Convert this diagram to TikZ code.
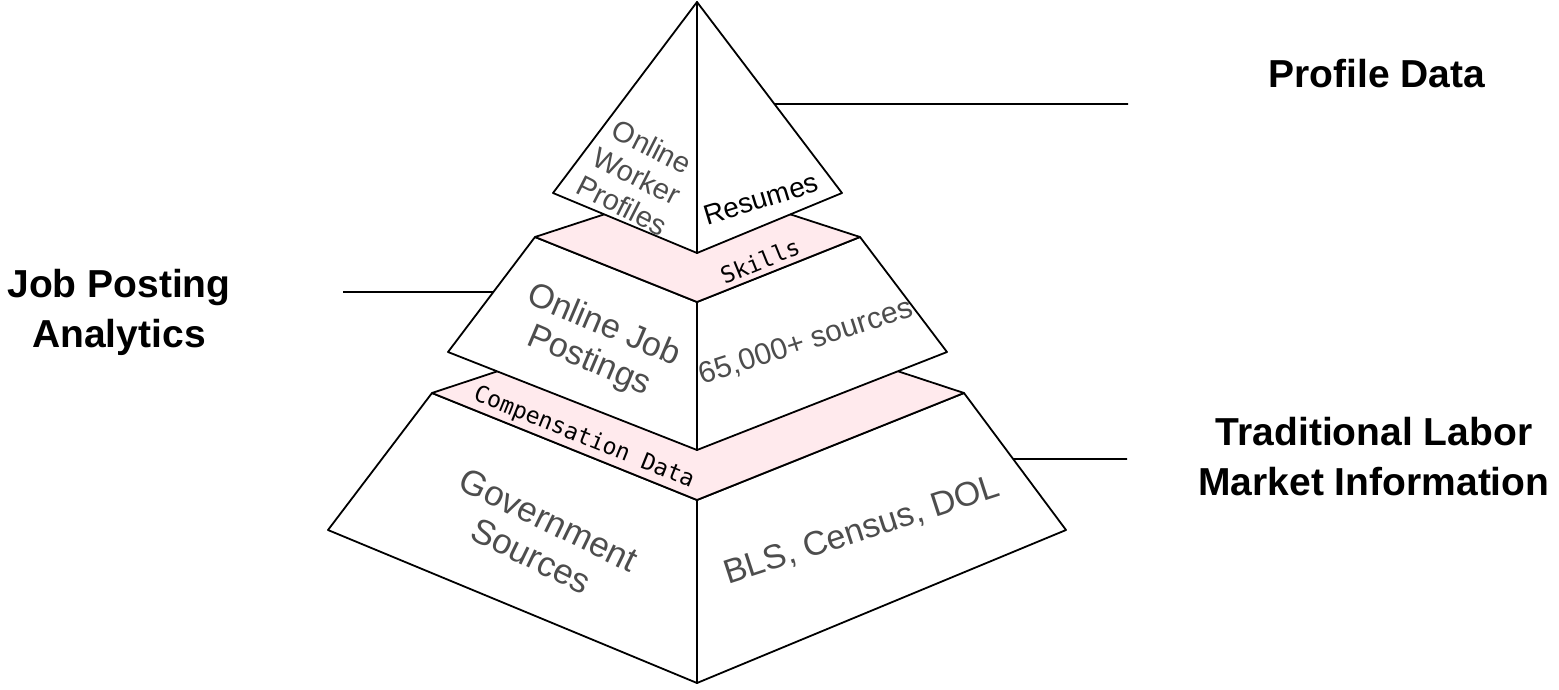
\documentclass[tikz,border=0pt]{standalone}
\usepackage{fontspec}
\setmainfont{Liberation Sans}
\newfontfamily\codefont{DejaVu Sans Mono}
\usepackage{xcolor}
\usepackage{tikz}
\usetikzlibrary{calc}
\definecolor{bandpink}{RGB}{255,234,237}
\definecolor{facegray}{RGB}{77,77,77}

\begin{document}
\begin{tikzpicture}[x=1pt,y=-1pt,line width=1.8pt,line join=round]
	\tikzstyle{face}=[draw,fill=white]
	\tikzstyle{band}=[draw,fill=bandpink]
	\tikzstyle{facetxt}=[text=facegray,align=center,inner sep=0pt]
	\tikzstyle{mono}=[font=\codefont\fontsize{23}{27}\selectfont,inner sep=0pt]
	\tikzstyle{lbl}=[font=\bfseries\fontsize{39}{50}\selectfont,align=center,inner sep=0pt]

	\useasboundingbox (0,0) rectangle (1559,689);

	\coordinate (T)   at (697,2);
	\coordinate (PL)  at (553,193);
	\coordinate (PR)  at (842,193);
	\coordinate (PF)  at (697,253);
	\coordinate (ML)  at (535,237);
	\coordinate (MR)  at (860,237);
	\coordinate (MB)  at (697,184);
	\coordinate (MF)  at (697,302);
	\coordinate (MLL) at (448,352);
	\coordinate (MRR) at (947,352);
	\coordinate (MFF) at (697,450);
	\coordinate (BL)  at (432,393);
	\coordinate (BR)  at (964,393);
	\coordinate (BB)  at (697,305);
	\coordinate (BF)  at (697,500);
	\coordinate (BLL) at (328,530);
	\coordinate (BRR) at (1066,530);
	\coordinate (BFF) at (697,683);

	\path[face] (BL) -- (BF) -- (BFF) -- (BLL) -- cycle;
	\path[face] (BF) -- (BR) -- (BRR) -- (BFF) -- cycle;
	\path[band] (BL) -- (BB) -- (BR) -- (BF) -- cycle;
	\path[face] (ML) -- (MF) -- (MFF) -- (MLL) -- cycle;
	\path[face] (MF) -- (MR) -- (MRR) -- (MFF) -- cycle;
	\path[band] (ML) -- (MB) -- (MR) -- (MF) -- cycle;
	\path[face] (T) -- (PF) -- (PL) -- cycle;
	\path[face] (T) -- (PR) -- (PF) -- cycle;

	\node[facetxt,rotate=-27,font=\fontsize{29}{33}\selectfont] (wprof) at (637,176) {Online\\Worker\\Profiles};
	\node[rotate=17,inner sep=0pt,font=\fontsize{28}{32}\selectfont] (resume) at (761,199) {Resumes};
	\node[mono,rotate=22] (skill) at (760,261) {Skills};
	\node[facetxt,rotate=-23,font=\fontsize{34}{38}\selectfont] (jobpost) at (596,344) {Online Job\\Postings};
	\node[facetxt,rotate=18,font=\fontsize{30}{34}\selectfont] (nsrc) at (806,342) {65,000+ sources};
	\node[mono,rotate=-22] (comp) at (584,438) {Compensation Data};
	\node[facetxt,rotate=-26,font=\fontsize{35}{40}\selectfont] (gov) at (540,538) {Government\\Sources};
	\node[facetxt,rotate=18,font=\fontsize{34}{38}\selectfont] (bls) at (862,531) {BLS, Census, DOL};

	\node[lbl] (profile) at (1377,74) {Profile Data};
	\node[lbl] (jpa) at (119,312) {Job Posting\\Analytics};
	\node[lbl] (tlmi) at (1374,457) {Traditional Labor\\Market Information};

	\coordinate (pdA) at ($(T)!0.534!(PR)$);
	\coordinate (pdB) at (1128,104);
	\coordinate (jpA) at ($(ML)!0.478!(MLL)$);
	\coordinate (jpB) at (343,292);
	\coordinate (tlA) at ($(BR)!0.482!(BRR)$);
	\coordinate (tlB) at (1127,459);

	\path[draw]
		(pdA) edge (pdB)
		(jpB) edge (jpA)
		(tlA) edge (tlB);
\end{tikzpicture}
\end{document}
